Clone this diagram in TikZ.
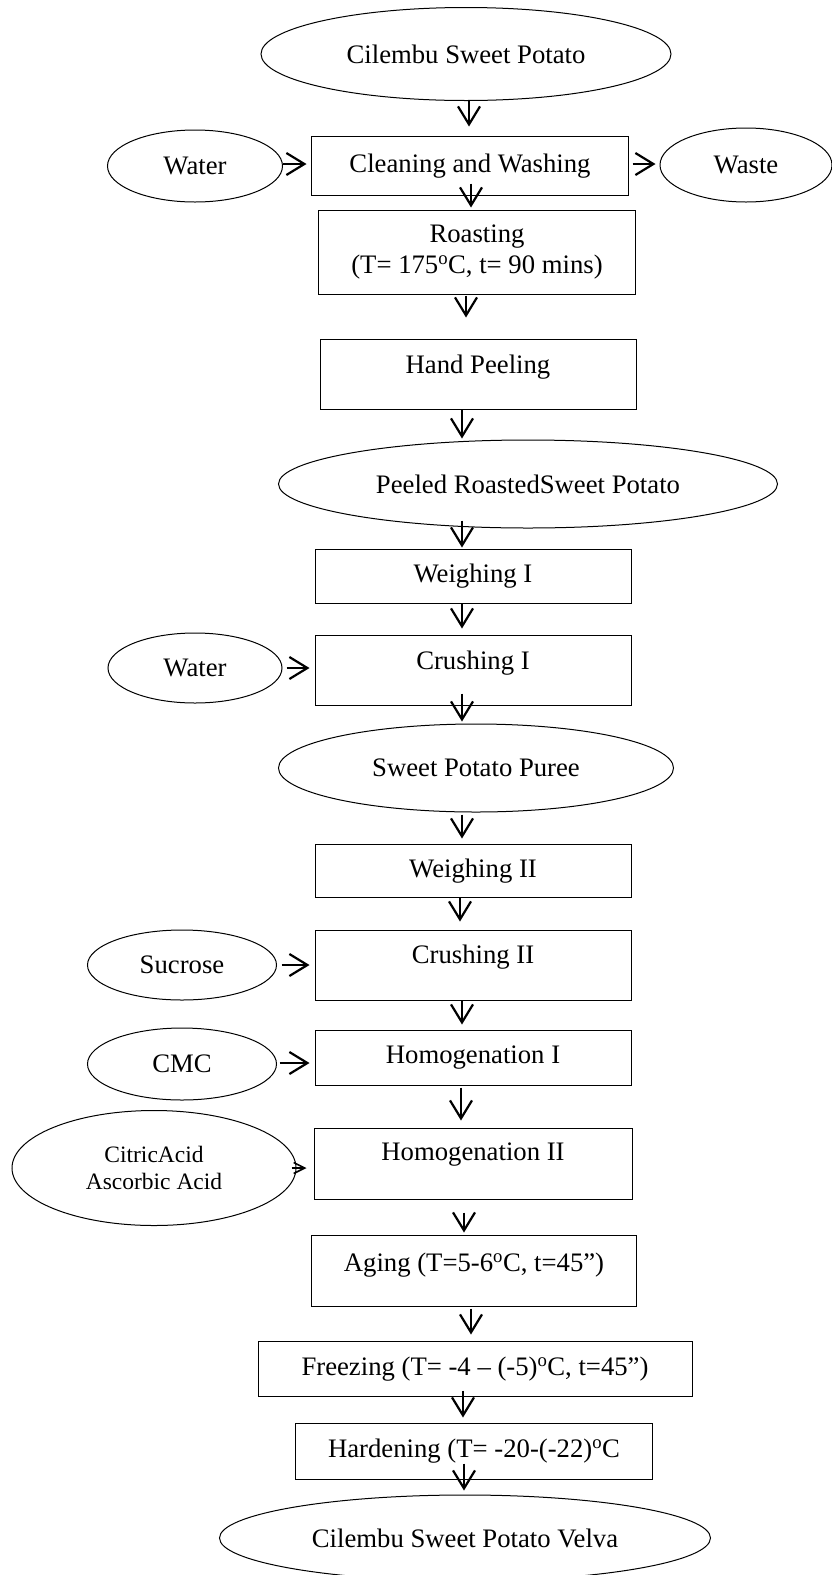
\documentclass[tikz,border=0pt]{standalone}
\usepackage{fontspec}
\setmainfont{Liberation Serif}
\usetikzlibrary{shapes.geometric,arrows.meta}
\tikzstyle{flowChart} = [x = 1pt, y = -1pt, every node/.style={font=\fontsize{26.7}{31}\selectfont}]
\tikzstyle{stepBox} = [draw, rectangle, line width=1pt, inner sep=0pt, minimum width=316pt, align=center]
\tikzstyle{itemOval} = [draw, ellipse, line width=1pt, inner sep=0pt, align=center]
\tikzstyle{flowArrow} = [-{Straight Barb[length=18pt,width=22pt]}, line width=2.2pt]
\tikzstyle{smallArrow} = [-{Straight Barb[length=11pt,width=11pt]}, line width=1.6pt]
\newcommand{\degC}{\textsuperscript{o}C}

\begin{document}
\begin{tikzpicture}[flowChart]
    \useasboundingbox (0,0) rectangle (832,1575);
    % main line
    \node [itemOval, minimum width=410pt, minimum height=93pt] (potato) at (466,54) {Cilembu Sweet Potato};
    \node [itemOval, minimum width=175pt, minimum height=72pt] (waterA) at (195,166) {Water};
    \node [stepBox, minimum width=317pt, minimum height=59pt] (clean) at (470,166) {Cleaning and Washing};
    \node [itemOval, minimum width=172pt, minimum height=74pt] (waste) at (746,165) {Waste};
    \node [stepBox, minimum width=317pt, minimum height=84pt] (roast) at (477,252) {Roasting\\(T= 175\degC, t= 90 mins)};
    \node [stepBox, minimum height=70pt, text depth=20pt] (peel) at (478,374) {Hand Peeling};
    \node [itemOval, minimum width=499pt, minimum height=88pt] (peeled) at (528,484) {Peeled RoastedSweet Potato};
    \node [stepBox, minimum height=54pt] (weighA) at (473,576) {Weighing I};
    \node [itemOval, minimum width=174pt, minimum height=70pt] (waterB) at (195,668) {Water};
    \node [stepBox, minimum height=70pt, text depth=20pt] (crushA) at (473,670) {Crushing I};
    \node [itemOval, minimum width=395pt, minimum height=88pt] (puree) at (476,768) {Sweet Potato Puree};
    \node [stepBox, minimum height=53pt] (weighB) at (473,871) {Weighing II};
    \node [itemOval, minimum width=189pt, minimum height=70pt] (sucrose) at (182,965) {Sucrose};
    \node [stepBox, minimum height=70pt, text depth=22pt] (crushB) at (473,965) {Crushing II};
    \node [itemOval, minimum width=189pt, minimum height=72pt] (cmc) at (182,1064) {CMC};
    \node [stepBox, minimum height=55pt] (homogA) at (473,1058) {Homogenation I};
    \node [itemOval, minimum width=284pt, minimum height=115pt, font=\fontsize{23.5}{27.7}\selectfont] (acid) at (154,1168) {CitricAcid\\Ascorbic Acid};
    \node [stepBox, minimum width=318pt, minimum height=71pt, text depth=24pt] (homogB) at (473,1164) {Homogenation II};
    \node [stepBox, minimum width=325pt, minimum height=71pt, text depth=18pt] (aging) at (474,1271) {Aging (T=5-6\degC, t=45'')};
    \node [stepBox, minimum width=434pt, minimum height=55pt] (freeze) at (475,1369) {Freezing (T= -4 -- (-5)\degC, t=45'')};
    \node [stepBox, minimum width=357pt, minimum height=56pt] (harden) at (474,1451) {Hardening (T= -20-(-22)\degC};
    \node [itemOval, minimum width=491pt, minimum height=86pt] (velva) at (465,1538) {Cilembu Sweet Potato Velva};
    % arrows
    \draw [flowArrow] ([xshift=3pt]potato.south) -- ([xshift=-1pt,yshift=9.5pt]clean.north);
    \draw [flowArrow] ([yshift=2pt]waterA.east) -- ([xshift=-4.5pt,yshift=2pt]clean.west);
    \draw [flowArrow] ([xshift=3.5pt,yshift=2pt]clean.east) -- ([xshift=-4pt,yshift=1pt]waste.west);
    \draw [flowArrow] ([xshift=1pt,yshift=12.5pt]clean.south) -- ([xshift=-6pt,yshift=2pt]roast.north);
    \draw [flowArrow] ([xshift=-11pt,yshift=-1pt]roast.south) -- ([xshift=-12pt,yshift=21pt]peel.north);
    \draw [flowArrow] ([xshift=-16pt]peel.south) -- ([xshift=-66pt,yshift=1pt]peeled.north);
    \draw [flowArrow] ([xshift=-66pt,yshift=8pt]peeled.south) -- ([xshift=-11pt,yshift=1pt]weighA.north);
    \draw [flowArrow] ([xshift=-11pt]weighA.south) -- ([xshift=-11pt,yshift=6pt]crushA.north);
    \draw [flowArrow] ([xshift=4pt]waterB.east) -- ([xshift=-5pt,yshift=2pt]crushA.west);
    \draw [flowArrow] ([xshift=-11pt,yshift=12pt]crushA.south) -- ([xshift=-14pt,yshift=2pt]puree.north);
    \draw [flowArrow] ([xshift=-14pt,yshift=-2pt]puree.south) -- ([xshift=-11pt,yshift=5.5pt]weighB.north);
    \draw [flowArrow] ([xshift=-13pt]weighB.south) -- ([xshift=-13pt,yshift=8pt]crushB.north);
    \draw [flowArrow] ([xshift=4.5pt]sucrose.east) -- ([xshift=-5pt]crushB.west);
    \draw [flowArrow] ([xshift=-11pt]crushB.south) -- ([xshift=-11pt,yshift=5.5pt]homogA.north);
    \draw [flowArrow] ([xshift=2.5pt,yshift=1pt]cmc.east) -- ([xshift=-5pt,yshift=-5pt]homogA.west);
    \draw [flowArrow] ([xshift=-12pt,yshift=-1.5pt]homogA.south) -- ([xshift=-12pt,yshift=7.5pt]homogB.north);
    \draw [smallArrow] ([xshift=-5pt]acid.east) -- ([xshift=-7pt,yshift=-4pt]homogB.west);
    \draw [flowArrow] ([xshift=-9pt,yshift=-12.5pt]homogB.south) -- ([xshift=-10pt,yshift=2.5pt]aging.north);
    \draw [flowArrow] ([xshift=-3pt,yshift=-1.5pt]aging.south) -- ([xshift=-4pt,yshift=6.5pt]freeze.north);
    \draw [flowArrow] ([xshift=-12pt,yshift=6.5pt]freeze.south) -- ([xshift=-11pt,yshift=5pt]harden.north);
    \draw [flowArrow] ([xshift=-10pt,yshift=16pt]harden.south) -- ([xshift=-1pt,yshift=4pt]velva.north);
\end{tikzpicture}
\end{document}
